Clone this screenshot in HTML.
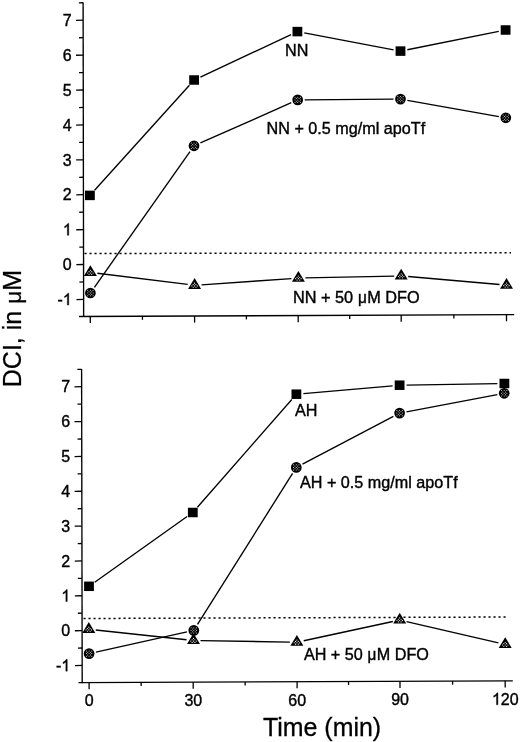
<!DOCTYPE html>
<html><head><meta charset="utf-8"><title>chart</title>
<style>
html,body{margin:0;padding:0;background:#fff;}
body{width:520px;height:742px;overflow:hidden;}
svg{display:block;filter:blur(0.3px);}
text{font-family:"Liberation Sans",sans-serif;fill:#000;}
</style></head><body>
<svg width="520" height="742" viewBox="0 0 520 742">
<rect width="520" height="742" fill="#fff"/>
<line x1="83.10" y1="2.50" x2="83.65" y2="317.00" stroke="#000" stroke-width="1.35" />
<line x1="79.00" y1="316.50" x2="514.20" y2="314.60" stroke="#000" stroke-width="1.35" />
<line x1="76.42" y1="299.54" x2="83.62" y2="299.40" stroke="#000" stroke-width="1.3" />
<g transform="translate(71.70,305.10) scale(0.97,1)"><text x="-14.671" y="0" font-size="16.5" stroke="#000" stroke-width="0.4">-</text><path transform="translate(-9.177,0) scale(0.008057,-0.008057)" d="M763 0H583V1147Q518 1085 412.5 1023Q307 961 223 930V1104Q374 1175 487 1276Q600 1377 647 1472H763Z" fill="#000" stroke="#000" stroke-width="49.6"/></g>
<line x1="79.39" y1="282.03" x2="83.59" y2="281.95" stroke="#000" stroke-width="1.3" />
<line x1="76.36" y1="264.64" x2="83.56" y2="264.50" stroke="#000" stroke-width="1.3" />
<g transform="translate(71.70,270.20) scale(0.97,1)"><text x="-9.177" y="0" font-size="16.5" stroke="#000" stroke-width="0.4">0</text></g>
<line x1="79.33" y1="247.13" x2="83.53" y2="247.05" stroke="#000" stroke-width="1.3" />
<line x1="76.30" y1="229.74" x2="83.50" y2="229.60" stroke="#000" stroke-width="1.3" />
<g transform="translate(71.70,235.30) scale(0.97,1)"><path transform="translate(-9.177,0) scale(0.008057,-0.008057)" d="M763 0H583V1147Q518 1085 412.5 1023Q307 961 223 930V1104Q374 1175 487 1276Q600 1377 647 1472H763Z" fill="#000" stroke="#000" stroke-width="49.6"/></g>
<line x1="79.27" y1="212.23" x2="83.47" y2="212.15" stroke="#000" stroke-width="1.3" />
<line x1="76.24" y1="194.84" x2="83.44" y2="194.70" stroke="#000" stroke-width="1.3" />
<g transform="translate(71.70,200.40) scale(0.97,1)"><text x="-9.177" y="0" font-size="16.5" stroke="#000" stroke-width="0.4">2</text></g>
<line x1="79.21" y1="177.33" x2="83.41" y2="177.25" stroke="#000" stroke-width="1.3" />
<line x1="76.18" y1="159.94" x2="83.38" y2="159.80" stroke="#000" stroke-width="1.3" />
<g transform="translate(71.70,165.50) scale(0.97,1)"><text x="-9.177" y="0" font-size="16.5" stroke="#000" stroke-width="0.4">3</text></g>
<line x1="79.14" y1="142.43" x2="83.34" y2="142.35" stroke="#000" stroke-width="1.3" />
<line x1="76.11" y1="125.04" x2="83.31" y2="124.90" stroke="#000" stroke-width="1.3" />
<g transform="translate(71.70,130.60) scale(0.97,1)"><text x="-9.177" y="0" font-size="16.5" stroke="#000" stroke-width="0.4">4</text></g>
<line x1="79.08" y1="107.53" x2="83.28" y2="107.45" stroke="#000" stroke-width="1.3" />
<line x1="76.05" y1="90.14" x2="83.25" y2="90.00" stroke="#000" stroke-width="1.3" />
<g transform="translate(71.70,95.70) scale(0.97,1)"><text x="-9.177" y="0" font-size="16.5" stroke="#000" stroke-width="0.4">5</text></g>
<line x1="79.02" y1="72.63" x2="83.22" y2="72.55" stroke="#000" stroke-width="1.3" />
<line x1="75.99" y1="55.24" x2="83.19" y2="55.10" stroke="#000" stroke-width="1.3" />
<g transform="translate(71.70,60.80) scale(0.97,1)"><text x="-9.177" y="0" font-size="16.5" stroke="#000" stroke-width="0.4">6</text></g>
<line x1="78.96" y1="37.73" x2="83.16" y2="37.65" stroke="#000" stroke-width="1.3" />
<line x1="75.93" y1="20.34" x2="83.13" y2="20.20" stroke="#000" stroke-width="1.3" />
<g transform="translate(71.70,25.90) scale(0.97,1)"><text x="-9.177" y="0" font-size="16.5" stroke="#000" stroke-width="0.4">7</text></g>
<line x1="78.90" y1="2.83" x2="83.10" y2="2.75" stroke="#000" stroke-width="1.3" />
<line x1="90.30" y1="316.45" x2="90.30" y2="323.05" stroke="#000" stroke-width="1.3" />
<line x1="142.45" y1="316.22" x2="142.45" y2="319.82" stroke="#000" stroke-width="1.3" />
<line x1="194.60" y1="316.00" x2="194.60" y2="322.60" stroke="#000" stroke-width="1.3" />
<line x1="246.40" y1="315.77" x2="246.40" y2="319.37" stroke="#000" stroke-width="1.3" />
<line x1="298.20" y1="315.54" x2="298.20" y2="322.14" stroke="#000" stroke-width="1.3" />
<line x1="349.70" y1="315.32" x2="349.70" y2="318.92" stroke="#000" stroke-width="1.3" />
<line x1="401.20" y1="315.09" x2="401.20" y2="321.69" stroke="#000" stroke-width="1.3" />
<line x1="453.85" y1="314.86" x2="453.85" y2="318.46" stroke="#000" stroke-width="1.3" />
<line x1="506.50" y1="314.63" x2="506.50" y2="321.23" stroke="#000" stroke-width="1.3" />
<line x1="84.50" y1="253.50" x2="511.00" y2="252.80" stroke="#000" stroke-width="1.5" stroke-dasharray="2.1 2.9"/>
<line x1="94.59" y1="190.20" x2="189.41" y2="85.20" stroke="#000" stroke-width="1.35" />
<line x1="200.44" y1="77.03" x2="291.06" y2="34.57" stroke="#000" stroke-width="1.35" />
<line x1="304.28" y1="32.90" x2="393.62" y2="49.80" stroke="#000" stroke-width="1.35" />
<line x1="407.36" y1="49.72" x2="498.74" y2="31.38" stroke="#000" stroke-width="1.35" />
<line x1="94.43" y1="287.28" x2="189.97" y2="151.52" stroke="#000" stroke-width="1.35" />
<line x1="200.40" y1="142.97" x2="291.30" y2="102.73" stroke="#000" stroke-width="1.35" />
<line x1="304.70" y1="99.85" x2="393.50" y2="99.15" stroke="#000" stroke-width="1.35" />
<line x1="407.39" y1="100.32" x2="498.91" y2="116.58" stroke="#000" stroke-width="1.35" />
<line x1="97.35" y1="273.26" x2="187.65" y2="284.44" stroke="#000" stroke-width="1.35" />
<line x1="201.58" y1="284.82" x2="291.42" y2="278.58" stroke="#000" stroke-width="1.35" />
<line x1="305.40" y1="277.95" x2="394.20" y2="276.05" stroke="#000" stroke-width="1.35" />
<line x1="408.17" y1="276.51" x2="499.53" y2="284.49" stroke="#000" stroke-width="1.35" />
<polygon points="90.40,265.20 96.90,276.00 83.90,276.00" fill="#000"/>
<circle cx="87.70" cy="273.00" r="0.58" fill="#fff"/>
<circle cx="89.05" cy="271.65" r="0.58" fill="#fff"/>
<circle cx="89.05" cy="274.35" r="0.58" fill="#fff"/>
<circle cx="90.40" cy="270.30" r="0.58" fill="#fff"/>
<circle cx="90.40" cy="273.00" r="0.58" fill="#fff"/>
<circle cx="91.75" cy="271.65" r="0.58" fill="#fff"/>
<circle cx="91.75" cy="274.35" r="0.58" fill="#fff"/>
<circle cx="93.10" cy="273.00" r="0.58" fill="#fff"/>
<polygon points="194.60,278.10 201.10,288.90 188.10,288.90" fill="#000"/>
<circle cx="191.90" cy="285.90" r="0.58" fill="#fff"/>
<circle cx="193.25" cy="284.55" r="0.58" fill="#fff"/>
<circle cx="193.25" cy="287.25" r="0.58" fill="#fff"/>
<circle cx="194.60" cy="283.20" r="0.58" fill="#fff"/>
<circle cx="194.60" cy="285.90" r="0.58" fill="#fff"/>
<circle cx="195.95" cy="284.55" r="0.58" fill="#fff"/>
<circle cx="195.95" cy="287.25" r="0.58" fill="#fff"/>
<circle cx="197.30" cy="285.90" r="0.58" fill="#fff"/>
<polygon points="298.40,270.90 304.90,281.70 291.90,281.70" fill="#000"/>
<circle cx="295.70" cy="278.70" r="0.58" fill="#fff"/>
<circle cx="297.05" cy="277.35" r="0.58" fill="#fff"/>
<circle cx="297.05" cy="280.05" r="0.58" fill="#fff"/>
<circle cx="298.40" cy="276.00" r="0.58" fill="#fff"/>
<circle cx="298.40" cy="278.70" r="0.58" fill="#fff"/>
<circle cx="299.75" cy="277.35" r="0.58" fill="#fff"/>
<circle cx="299.75" cy="280.05" r="0.58" fill="#fff"/>
<circle cx="301.10" cy="278.70" r="0.58" fill="#fff"/>
<polygon points="401.20,268.70 407.70,279.50 394.70,279.50" fill="#000"/>
<circle cx="398.50" cy="276.50" r="0.58" fill="#fff"/>
<circle cx="399.85" cy="275.15" r="0.58" fill="#fff"/>
<circle cx="399.85" cy="277.85" r="0.58" fill="#fff"/>
<circle cx="401.20" cy="273.80" r="0.58" fill="#fff"/>
<circle cx="401.20" cy="276.50" r="0.58" fill="#fff"/>
<circle cx="402.55" cy="275.15" r="0.58" fill="#fff"/>
<circle cx="402.55" cy="277.85" r="0.58" fill="#fff"/>
<circle cx="403.90" cy="276.50" r="0.58" fill="#fff"/>
<polygon points="506.50,277.90 513.00,288.70 500.00,288.70" fill="#000"/>
<circle cx="503.80" cy="285.70" r="0.58" fill="#fff"/>
<circle cx="505.15" cy="284.35" r="0.58" fill="#fff"/>
<circle cx="505.15" cy="287.05" r="0.58" fill="#fff"/>
<circle cx="506.50" cy="283.00" r="0.58" fill="#fff"/>
<circle cx="506.50" cy="285.70" r="0.58" fill="#fff"/>
<circle cx="507.85" cy="284.35" r="0.58" fill="#fff"/>
<circle cx="507.85" cy="287.05" r="0.58" fill="#fff"/>
<circle cx="509.20" cy="285.70" r="0.58" fill="#fff"/>
<rect x="85.00" y="190.65" width="9.8" height="9.5" fill="#000"/>
<rect x="189.20" y="75.25" width="9.8" height="9.5" fill="#000"/>
<rect x="292.50" y="26.85" width="9.8" height="9.5" fill="#000"/>
<rect x="395.60" y="46.35" width="9.8" height="9.5" fill="#000"/>
<rect x="500.70" y="25.25" width="9.8" height="9.5" fill="#000"/>
<circle cx="90.40" cy="293.00" r="5.35" fill="#000"/>
<circle cx="87.70" cy="290.30" r="0.52" fill="#e4e4e4"/>
<circle cx="87.70" cy="293.00" r="0.52" fill="#e4e4e4"/>
<circle cx="87.70" cy="295.70" r="0.52" fill="#e4e4e4"/>
<circle cx="89.05" cy="291.65" r="0.52" fill="#e4e4e4"/>
<circle cx="89.05" cy="294.35" r="0.52" fill="#e4e4e4"/>
<circle cx="90.40" cy="290.30" r="0.52" fill="#e4e4e4"/>
<circle cx="90.40" cy="293.00" r="0.52" fill="#e4e4e4"/>
<circle cx="90.40" cy="295.70" r="0.52" fill="#e4e4e4"/>
<circle cx="91.75" cy="291.65" r="0.52" fill="#e4e4e4"/>
<circle cx="91.75" cy="294.35" r="0.52" fill="#e4e4e4"/>
<circle cx="93.10" cy="290.30" r="0.52" fill="#e4e4e4"/>
<circle cx="93.10" cy="293.00" r="0.52" fill="#e4e4e4"/>
<circle cx="93.10" cy="295.70" r="0.52" fill="#e4e4e4"/>
<circle cx="194.00" cy="145.80" r="5.35" fill="#000"/>
<circle cx="191.30" cy="143.10" r="0.52" fill="#e4e4e4"/>
<circle cx="191.30" cy="145.80" r="0.52" fill="#e4e4e4"/>
<circle cx="191.30" cy="148.50" r="0.52" fill="#e4e4e4"/>
<circle cx="192.65" cy="144.45" r="0.52" fill="#e4e4e4"/>
<circle cx="192.65" cy="147.15" r="0.52" fill="#e4e4e4"/>
<circle cx="194.00" cy="143.10" r="0.52" fill="#e4e4e4"/>
<circle cx="194.00" cy="145.80" r="0.52" fill="#e4e4e4"/>
<circle cx="194.00" cy="148.50" r="0.52" fill="#e4e4e4"/>
<circle cx="195.35" cy="144.45" r="0.52" fill="#e4e4e4"/>
<circle cx="195.35" cy="147.15" r="0.52" fill="#e4e4e4"/>
<circle cx="196.70" cy="143.10" r="0.52" fill="#e4e4e4"/>
<circle cx="196.70" cy="145.80" r="0.52" fill="#e4e4e4"/>
<circle cx="196.70" cy="148.50" r="0.52" fill="#e4e4e4"/>
<circle cx="297.70" cy="99.90" r="5.35" fill="#000"/>
<circle cx="295.00" cy="97.20" r="0.52" fill="#e4e4e4"/>
<circle cx="295.00" cy="99.90" r="0.52" fill="#e4e4e4"/>
<circle cx="295.00" cy="102.60" r="0.52" fill="#e4e4e4"/>
<circle cx="296.35" cy="98.55" r="0.52" fill="#e4e4e4"/>
<circle cx="296.35" cy="101.25" r="0.52" fill="#e4e4e4"/>
<circle cx="297.70" cy="97.20" r="0.52" fill="#e4e4e4"/>
<circle cx="297.70" cy="99.90" r="0.52" fill="#e4e4e4"/>
<circle cx="297.70" cy="102.60" r="0.52" fill="#e4e4e4"/>
<circle cx="299.05" cy="98.55" r="0.52" fill="#e4e4e4"/>
<circle cx="299.05" cy="101.25" r="0.52" fill="#e4e4e4"/>
<circle cx="300.40" cy="97.20" r="0.52" fill="#e4e4e4"/>
<circle cx="300.40" cy="99.90" r="0.52" fill="#e4e4e4"/>
<circle cx="300.40" cy="102.60" r="0.52" fill="#e4e4e4"/>
<circle cx="400.50" cy="99.10" r="5.35" fill="#000"/>
<circle cx="397.80" cy="96.40" r="0.52" fill="#e4e4e4"/>
<circle cx="397.80" cy="99.10" r="0.52" fill="#e4e4e4"/>
<circle cx="397.80" cy="101.80" r="0.52" fill="#e4e4e4"/>
<circle cx="399.15" cy="97.75" r="0.52" fill="#e4e4e4"/>
<circle cx="399.15" cy="100.45" r="0.52" fill="#e4e4e4"/>
<circle cx="400.50" cy="96.40" r="0.52" fill="#e4e4e4"/>
<circle cx="400.50" cy="99.10" r="0.52" fill="#e4e4e4"/>
<circle cx="400.50" cy="101.80" r="0.52" fill="#e4e4e4"/>
<circle cx="401.85" cy="97.75" r="0.52" fill="#e4e4e4"/>
<circle cx="401.85" cy="100.45" r="0.52" fill="#e4e4e4"/>
<circle cx="403.20" cy="96.40" r="0.52" fill="#e4e4e4"/>
<circle cx="403.20" cy="99.10" r="0.52" fill="#e4e4e4"/>
<circle cx="403.20" cy="101.80" r="0.52" fill="#e4e4e4"/>
<circle cx="505.80" cy="117.80" r="5.35" fill="#000"/>
<circle cx="503.10" cy="115.10" r="0.52" fill="#e4e4e4"/>
<circle cx="503.10" cy="117.80" r="0.52" fill="#e4e4e4"/>
<circle cx="503.10" cy="120.50" r="0.52" fill="#e4e4e4"/>
<circle cx="504.45" cy="116.45" r="0.52" fill="#e4e4e4"/>
<circle cx="504.45" cy="119.15" r="0.52" fill="#e4e4e4"/>
<circle cx="505.80" cy="115.10" r="0.52" fill="#e4e4e4"/>
<circle cx="505.80" cy="117.80" r="0.52" fill="#e4e4e4"/>
<circle cx="505.80" cy="120.50" r="0.52" fill="#e4e4e4"/>
<circle cx="507.15" cy="116.45" r="0.52" fill="#e4e4e4"/>
<circle cx="507.15" cy="119.15" r="0.52" fill="#e4e4e4"/>
<circle cx="508.50" cy="115.10" r="0.52" fill="#e4e4e4"/>
<circle cx="508.50" cy="117.80" r="0.52" fill="#e4e4e4"/>
<circle cx="508.50" cy="120.50" r="0.52" fill="#e4e4e4"/>
<line x1="81.60" y1="369.00" x2="82.20" y2="683.30" stroke="#000" stroke-width="1.35" />
<line x1="78.50" y1="682.65" x2="512.80" y2="680.80" stroke="#000" stroke-width="1.35" />
<line x1="74.97" y1="665.58" x2="82.17" y2="665.44" stroke="#000" stroke-width="1.3" />
<g transform="translate(70.20,671.14) scale(0.97,1)"><text x="-14.671" y="0" font-size="16.5" stroke="#000" stroke-width="0.4">-</text><path transform="translate(-9.177,0) scale(0.008057,-0.008057)" d="M763 0H583V1147Q518 1085 412.5 1023Q307 961 223 930V1104Q374 1175 487 1276Q600 1377 647 1472H763Z" fill="#000" stroke="#000" stroke-width="49.6"/></g>
<line x1="77.93" y1="648.10" x2="82.13" y2="648.02" stroke="#000" stroke-width="1.3" />
<line x1="74.90" y1="630.74" x2="82.10" y2="630.60" stroke="#000" stroke-width="1.3" />
<g transform="translate(70.20,636.30) scale(0.97,1)"><text x="-9.177" y="0" font-size="16.5" stroke="#000" stroke-width="0.4">0</text></g>
<line x1="77.87" y1="613.26" x2="82.07" y2="613.18" stroke="#000" stroke-width="1.3" />
<line x1="74.83" y1="595.90" x2="82.03" y2="595.76" stroke="#000" stroke-width="1.3" />
<g transform="translate(70.20,601.46) scale(0.97,1)"><path transform="translate(-9.177,0) scale(0.008057,-0.008057)" d="M763 0H583V1147Q518 1085 412.5 1023Q307 961 223 930V1104Q374 1175 487 1276Q600 1377 647 1472H763Z" fill="#000" stroke="#000" stroke-width="49.6"/></g>
<line x1="77.80" y1="578.42" x2="82.00" y2="578.34" stroke="#000" stroke-width="1.3" />
<line x1="74.77" y1="561.06" x2="81.97" y2="560.92" stroke="#000" stroke-width="1.3" />
<g transform="translate(70.20,566.62) scale(0.97,1)"><text x="-9.177" y="0" font-size="16.5" stroke="#000" stroke-width="0.4">2</text></g>
<line x1="77.73" y1="543.58" x2="81.93" y2="543.50" stroke="#000" stroke-width="1.3" />
<line x1="74.70" y1="526.22" x2="81.90" y2="526.08" stroke="#000" stroke-width="1.3" />
<g transform="translate(70.20,531.78) scale(0.97,1)"><text x="-9.177" y="0" font-size="16.5" stroke="#000" stroke-width="0.4">3</text></g>
<line x1="77.67" y1="508.74" x2="81.87" y2="508.66" stroke="#000" stroke-width="1.3" />
<line x1="74.63" y1="491.38" x2="81.83" y2="491.24" stroke="#000" stroke-width="1.3" />
<g transform="translate(70.20,496.94) scale(0.97,1)"><text x="-9.177" y="0" font-size="16.5" stroke="#000" stroke-width="0.4">4</text></g>
<line x1="77.60" y1="473.90" x2="81.80" y2="473.82" stroke="#000" stroke-width="1.3" />
<line x1="74.57" y1="456.54" x2="81.77" y2="456.40" stroke="#000" stroke-width="1.3" />
<g transform="translate(70.20,462.10) scale(0.97,1)"><text x="-9.177" y="0" font-size="16.5" stroke="#000" stroke-width="0.4">5</text></g>
<line x1="77.53" y1="439.06" x2="81.73" y2="438.98" stroke="#000" stroke-width="1.3" />
<line x1="74.50" y1="421.70" x2="81.70" y2="421.56" stroke="#000" stroke-width="1.3" />
<g transform="translate(70.20,427.26) scale(0.97,1)"><text x="-9.177" y="0" font-size="16.5" stroke="#000" stroke-width="0.4">6</text></g>
<line x1="77.47" y1="404.22" x2="81.67" y2="404.14" stroke="#000" stroke-width="1.3" />
<line x1="74.43" y1="386.86" x2="81.63" y2="386.72" stroke="#000" stroke-width="1.3" />
<g transform="translate(70.20,392.42) scale(0.97,1)"><text x="-9.177" y="0" font-size="16.5" stroke="#000" stroke-width="0.4">7</text></g>
<line x1="77.40" y1="369.38" x2="81.60" y2="369.30" stroke="#000" stroke-width="1.3" />
<line x1="89.10" y1="682.60" x2="89.10" y2="689.20" stroke="#000" stroke-width="1.3" />
<g transform="translate(89.20,706.00) scale(0.97,1)"><text x="-4.588" y="0" font-size="16.5" stroke="#000" stroke-width="0.4">0</text></g>
<line x1="141.15" y1="682.38" x2="141.15" y2="685.98" stroke="#000" stroke-width="1.3" />
<line x1="193.20" y1="682.16" x2="193.20" y2="688.76" stroke="#000" stroke-width="1.3" />
<g transform="translate(193.30,705.90) scale(0.97,1)"><text x="-9.177" y="0" font-size="16.5" stroke="#000" stroke-width="0.4">3</text><text x="0.000" y="0" font-size="16.5" stroke="#000" stroke-width="0.4">0</text></g>
<line x1="245.15" y1="681.94" x2="245.15" y2="685.54" stroke="#000" stroke-width="1.3" />
<line x1="297.10" y1="681.72" x2="297.10" y2="688.32" stroke="#000" stroke-width="1.3" />
<g transform="translate(297.20,705.50) scale(0.97,1)"><text x="-9.177" y="0" font-size="16.5" stroke="#000" stroke-width="0.4">6</text><text x="0.000" y="0" font-size="16.5" stroke="#000" stroke-width="0.4">0</text></g>
<line x1="348.55" y1="681.50" x2="348.55" y2="685.10" stroke="#000" stroke-width="1.3" />
<line x1="400.00" y1="681.28" x2="400.00" y2="687.88" stroke="#000" stroke-width="1.3" />
<g transform="translate(400.10,704.90) scale(0.97,1)"><text x="-9.177" y="0" font-size="16.5" stroke="#000" stroke-width="0.4">9</text><text x="0.000" y="0" font-size="16.5" stroke="#000" stroke-width="0.4">0</text></g>
<line x1="452.60" y1="681.06" x2="452.60" y2="684.66" stroke="#000" stroke-width="1.3" />
<line x1="505.20" y1="680.83" x2="505.20" y2="687.43" stroke="#000" stroke-width="1.3" />
<g transform="translate(505.30,704.70) scale(0.97,1)"><path transform="translate(-13.765,0) scale(0.008057,-0.008057)" d="M763 0H583V1147Q518 1085 412.5 1023Q307 961 223 930V1104Q374 1175 487 1276Q600 1377 647 1472H763Z" fill="#000" stroke="#000" stroke-width="49.6"/><text x="-4.588" y="0" font-size="16.5" stroke="#000" stroke-width="0.4">2</text><text x="4.588" y="0" font-size="16.5" stroke="#000" stroke-width="0.4">0</text></g>
<line x1="83.50" y1="618.50" x2="508.30" y2="617.00" stroke="#000" stroke-width="1.5" stroke-dasharray="2.1 2.9"/>
<line x1="94.71" y1="582.24" x2="187.09" y2="516.56" stroke="#000" stroke-width="1.35" />
<line x1="197.41" y1="507.23" x2="291.79" y2="399.47" stroke="#000" stroke-width="1.35" />
<line x1="303.37" y1="393.59" x2="392.63" y2="385.81" stroke="#000" stroke-width="1.35" />
<line x1="406.60" y1="385.09" x2="497.40" y2="383.61" stroke="#000" stroke-width="1.35" />
<line x1="95.93" y1="652.09" x2="186.97" y2="631.91" stroke="#000" stroke-width="1.35" />
<line x1="197.53" y1="624.47" x2="292.57" y2="473.33" stroke="#000" stroke-width="1.35" />
<line x1="302.50" y1="464.14" x2="393.40" y2="416.36" stroke="#000" stroke-width="1.35" />
<line x1="406.48" y1="411.80" x2="497.32" y2="394.60" stroke="#000" stroke-width="1.35" />
<line x1="95.76" y1="630.04" x2="186.54" y2="639.76" stroke="#000" stroke-width="1.35" />
<line x1="200.50" y1="640.62" x2="289.90" y2="642.08" stroke="#000" stroke-width="1.35" />
<line x1="303.74" y1="640.72" x2="392.86" y2="621.48" stroke="#000" stroke-width="1.35" />
<line x1="406.52" y1="621.58" x2="498.38" y2="642.82" stroke="#000" stroke-width="1.35" />
<polygon points="88.80,622.10 95.30,632.90 82.30,632.90" fill="#000"/>
<circle cx="86.10" cy="629.90" r="0.58" fill="#fff"/>
<circle cx="87.45" cy="628.55" r="0.58" fill="#fff"/>
<circle cx="87.45" cy="631.25" r="0.58" fill="#fff"/>
<circle cx="88.80" cy="627.20" r="0.58" fill="#fff"/>
<circle cx="88.80" cy="629.90" r="0.58" fill="#fff"/>
<circle cx="90.15" cy="628.55" r="0.58" fill="#fff"/>
<circle cx="90.15" cy="631.25" r="0.58" fill="#fff"/>
<circle cx="91.50" cy="629.90" r="0.58" fill="#fff"/>
<polygon points="193.50,633.30 200.00,644.10 187.00,644.10" fill="#000"/>
<circle cx="190.80" cy="641.10" r="0.58" fill="#fff"/>
<circle cx="192.15" cy="639.75" r="0.58" fill="#fff"/>
<circle cx="192.15" cy="642.45" r="0.58" fill="#fff"/>
<circle cx="193.50" cy="638.40" r="0.58" fill="#fff"/>
<circle cx="193.50" cy="641.10" r="0.58" fill="#fff"/>
<circle cx="194.85" cy="639.75" r="0.58" fill="#fff"/>
<circle cx="194.85" cy="642.45" r="0.58" fill="#fff"/>
<circle cx="196.20" cy="641.10" r="0.58" fill="#fff"/>
<polygon points="296.90,635.00 303.40,645.80 290.40,645.80" fill="#000"/>
<circle cx="294.20" cy="642.80" r="0.58" fill="#fff"/>
<circle cx="295.55" cy="641.45" r="0.58" fill="#fff"/>
<circle cx="295.55" cy="644.15" r="0.58" fill="#fff"/>
<circle cx="296.90" cy="640.10" r="0.58" fill="#fff"/>
<circle cx="296.90" cy="642.80" r="0.58" fill="#fff"/>
<circle cx="298.25" cy="641.45" r="0.58" fill="#fff"/>
<circle cx="298.25" cy="644.15" r="0.58" fill="#fff"/>
<circle cx="299.60" cy="642.80" r="0.58" fill="#fff"/>
<polygon points="399.70,612.80 406.20,623.60 393.20,623.60" fill="#000"/>
<circle cx="397.00" cy="620.60" r="0.58" fill="#fff"/>
<circle cx="398.35" cy="619.25" r="0.58" fill="#fff"/>
<circle cx="398.35" cy="621.95" r="0.58" fill="#fff"/>
<circle cx="399.70" cy="617.90" r="0.58" fill="#fff"/>
<circle cx="399.70" cy="620.60" r="0.58" fill="#fff"/>
<circle cx="401.05" cy="619.25" r="0.58" fill="#fff"/>
<circle cx="401.05" cy="621.95" r="0.58" fill="#fff"/>
<circle cx="402.40" cy="620.60" r="0.58" fill="#fff"/>
<polygon points="505.20,637.20 511.70,648.00 498.70,648.00" fill="#000"/>
<circle cx="502.50" cy="645.00" r="0.58" fill="#fff"/>
<circle cx="503.85" cy="643.65" r="0.58" fill="#fff"/>
<circle cx="503.85" cy="646.35" r="0.58" fill="#fff"/>
<circle cx="505.20" cy="642.30" r="0.58" fill="#fff"/>
<circle cx="505.20" cy="645.00" r="0.58" fill="#fff"/>
<circle cx="506.55" cy="643.65" r="0.58" fill="#fff"/>
<circle cx="506.55" cy="646.35" r="0.58" fill="#fff"/>
<circle cx="507.90" cy="645.00" r="0.58" fill="#fff"/>
<rect x="84.10" y="581.55" width="9.8" height="9.5" fill="#000"/>
<rect x="187.90" y="507.75" width="9.8" height="9.5" fill="#000"/>
<rect x="291.50" y="389.45" width="9.8" height="9.5" fill="#000"/>
<rect x="394.70" y="380.45" width="9.8" height="9.5" fill="#000"/>
<rect x="499.50" y="378.75" width="9.8" height="9.5" fill="#000"/>
<circle cx="89.10" cy="653.60" r="5.35" fill="#000"/>
<circle cx="86.40" cy="650.90" r="0.52" fill="#e4e4e4"/>
<circle cx="86.40" cy="653.60" r="0.52" fill="#e4e4e4"/>
<circle cx="86.40" cy="656.30" r="0.52" fill="#e4e4e4"/>
<circle cx="87.75" cy="652.25" r="0.52" fill="#e4e4e4"/>
<circle cx="87.75" cy="654.95" r="0.52" fill="#e4e4e4"/>
<circle cx="89.10" cy="650.90" r="0.52" fill="#e4e4e4"/>
<circle cx="89.10" cy="653.60" r="0.52" fill="#e4e4e4"/>
<circle cx="89.10" cy="656.30" r="0.52" fill="#e4e4e4"/>
<circle cx="90.45" cy="652.25" r="0.52" fill="#e4e4e4"/>
<circle cx="90.45" cy="654.95" r="0.52" fill="#e4e4e4"/>
<circle cx="91.80" cy="650.90" r="0.52" fill="#e4e4e4"/>
<circle cx="91.80" cy="653.60" r="0.52" fill="#e4e4e4"/>
<circle cx="91.80" cy="656.30" r="0.52" fill="#e4e4e4"/>
<circle cx="193.80" cy="630.40" r="5.35" fill="#000"/>
<circle cx="191.10" cy="627.70" r="0.52" fill="#e4e4e4"/>
<circle cx="191.10" cy="630.40" r="0.52" fill="#e4e4e4"/>
<circle cx="191.10" cy="633.10" r="0.52" fill="#e4e4e4"/>
<circle cx="192.45" cy="629.05" r="0.52" fill="#e4e4e4"/>
<circle cx="192.45" cy="631.75" r="0.52" fill="#e4e4e4"/>
<circle cx="193.80" cy="627.70" r="0.52" fill="#e4e4e4"/>
<circle cx="193.80" cy="630.40" r="0.52" fill="#e4e4e4"/>
<circle cx="193.80" cy="633.10" r="0.52" fill="#e4e4e4"/>
<circle cx="195.15" cy="629.05" r="0.52" fill="#e4e4e4"/>
<circle cx="195.15" cy="631.75" r="0.52" fill="#e4e4e4"/>
<circle cx="196.50" cy="627.70" r="0.52" fill="#e4e4e4"/>
<circle cx="196.50" cy="630.40" r="0.52" fill="#e4e4e4"/>
<circle cx="196.50" cy="633.10" r="0.52" fill="#e4e4e4"/>
<circle cx="296.30" cy="467.40" r="5.35" fill="#000"/>
<circle cx="293.60" cy="464.70" r="0.52" fill="#e4e4e4"/>
<circle cx="293.60" cy="467.40" r="0.52" fill="#e4e4e4"/>
<circle cx="293.60" cy="470.10" r="0.52" fill="#e4e4e4"/>
<circle cx="294.95" cy="466.05" r="0.52" fill="#e4e4e4"/>
<circle cx="294.95" cy="468.75" r="0.52" fill="#e4e4e4"/>
<circle cx="296.30" cy="464.70" r="0.52" fill="#e4e4e4"/>
<circle cx="296.30" cy="467.40" r="0.52" fill="#e4e4e4"/>
<circle cx="296.30" cy="470.10" r="0.52" fill="#e4e4e4"/>
<circle cx="297.65" cy="466.05" r="0.52" fill="#e4e4e4"/>
<circle cx="297.65" cy="468.75" r="0.52" fill="#e4e4e4"/>
<circle cx="299.00" cy="464.70" r="0.52" fill="#e4e4e4"/>
<circle cx="299.00" cy="467.40" r="0.52" fill="#e4e4e4"/>
<circle cx="299.00" cy="470.10" r="0.52" fill="#e4e4e4"/>
<circle cx="399.60" cy="413.10" r="5.35" fill="#000"/>
<circle cx="396.90" cy="410.40" r="0.52" fill="#e4e4e4"/>
<circle cx="396.90" cy="413.10" r="0.52" fill="#e4e4e4"/>
<circle cx="396.90" cy="415.80" r="0.52" fill="#e4e4e4"/>
<circle cx="398.25" cy="411.75" r="0.52" fill="#e4e4e4"/>
<circle cx="398.25" cy="414.45" r="0.52" fill="#e4e4e4"/>
<circle cx="399.60" cy="410.40" r="0.52" fill="#e4e4e4"/>
<circle cx="399.60" cy="413.10" r="0.52" fill="#e4e4e4"/>
<circle cx="399.60" cy="415.80" r="0.52" fill="#e4e4e4"/>
<circle cx="400.95" cy="411.75" r="0.52" fill="#e4e4e4"/>
<circle cx="400.95" cy="414.45" r="0.52" fill="#e4e4e4"/>
<circle cx="402.30" cy="410.40" r="0.52" fill="#e4e4e4"/>
<circle cx="402.30" cy="413.10" r="0.52" fill="#e4e4e4"/>
<circle cx="402.30" cy="415.80" r="0.52" fill="#e4e4e4"/>
<circle cx="504.20" cy="393.30" r="5.35" fill="#000"/>
<circle cx="501.50" cy="390.60" r="0.52" fill="#e4e4e4"/>
<circle cx="501.50" cy="393.30" r="0.52" fill="#e4e4e4"/>
<circle cx="501.50" cy="396.00" r="0.52" fill="#e4e4e4"/>
<circle cx="502.85" cy="391.95" r="0.52" fill="#e4e4e4"/>
<circle cx="502.85" cy="394.65" r="0.52" fill="#e4e4e4"/>
<circle cx="504.20" cy="390.60" r="0.52" fill="#e4e4e4"/>
<circle cx="504.20" cy="393.30" r="0.52" fill="#e4e4e4"/>
<circle cx="504.20" cy="396.00" r="0.52" fill="#e4e4e4"/>
<circle cx="505.55" cy="391.95" r="0.52" fill="#e4e4e4"/>
<circle cx="505.55" cy="394.65" r="0.52" fill="#e4e4e4"/>
<circle cx="506.90" cy="390.60" r="0.52" fill="#e4e4e4"/>
<circle cx="506.90" cy="393.30" r="0.52" fill="#e4e4e4"/>
<circle cx="506.90" cy="396.00" r="0.52" fill="#e4e4e4"/>
<text transform="translate(285.00,55.90) scale(0.98,1)" font-size="16.5" text-anchor="start" stroke="#000" stroke-width="0.4">NN</text>
<text transform="translate(266.60,134.20) scale(0.98,1)" font-size="16.5" text-anchor="start" stroke="#000" stroke-width="0.4">NN + 0.5 mg/ml apoTf</text>
<text transform="translate(293.00,303.20) scale(0.987,1)" font-size="16.5" text-anchor="start" stroke="#000" stroke-width="0.4">NN + 50 <tspan font-size="15.6" dx="0.3">μ</tspan><tspan dx="0.5">M</tspan> DFO</text>
<text transform="translate(295.00,415.90) scale(0.98,1)" font-size="16.5" text-anchor="start" stroke="#000" stroke-width="0.4">AH</text>
<text transform="translate(300.00,487.70) scale(0.98,1)" font-size="16.5" text-anchor="start" stroke="#000" stroke-width="0.4">AH + 0.5 mg/ml apoTf</text>
<text transform="translate(303.90,660.20) scale(0.98,1)" font-size="16.5" text-anchor="start" stroke="#000" stroke-width="0.4">AH + 50 <tspan font-size="15.6" dx="0.3">μ</tspan><tspan dx="0.5">M</tspan> DFO</text>
<text transform="translate(263.00,736.20) scale(0.985,1)" font-size="25.3" text-anchor="start" stroke="#000" stroke-width="0.3">Time (min)</text>
<text transform="translate(21.2,387.2) rotate(-90)" font-size="25" stroke="#000" stroke-width="0.25">DCI, in <tspan font-size="22.5">μ</tspan>M</text>
</svg>
</body></html>
